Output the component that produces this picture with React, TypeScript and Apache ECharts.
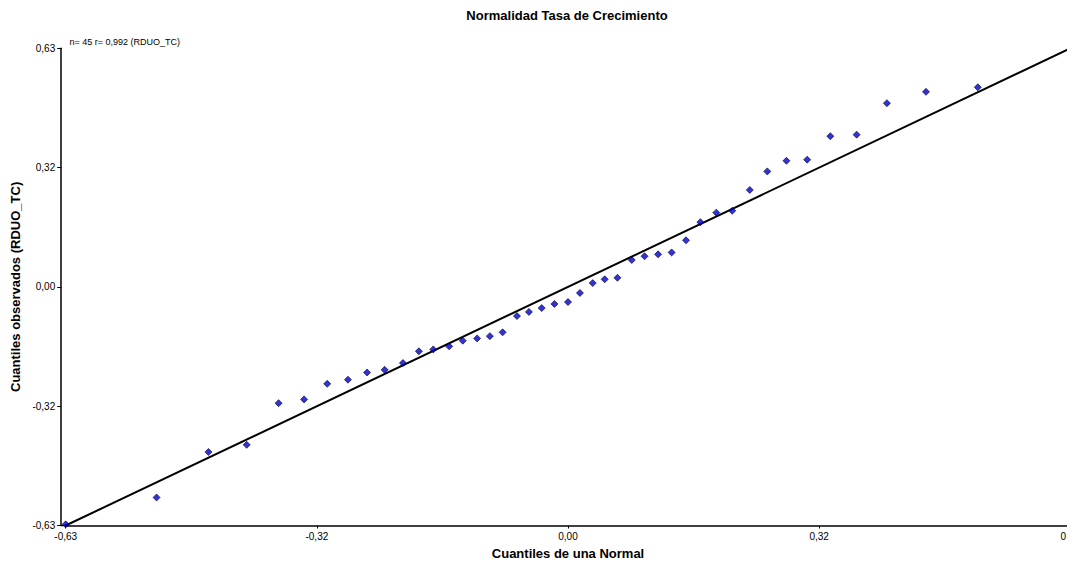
import React, { useEffect, useRef } from "react";
import * as echarts from "echarts";

const normalQuantiles = [
  -0.630, -0.516, -0.451, -0.403, -0.363, -0.331, -0.302, -0.276, -0.252, -0.230,
  -0.207, -0.187, -0.169, -0.149, -0.132, -0.114, -0.098, -0.082, -0.064, -0.049,
  -0.033, -0.017, 0.000, 0.015, 0.031, 0.046, 0.062, 0.080, 0.096, 0.113,
  0.130, 0.148, 0.166, 0.186, 0.206, 0.228, 0.250, 0.274, 0.300, 0.329,
  0.362, 0.400, 0.449, 0.514, 0.631,
];
const observedQuantiles = [
  -0.627, -0.556, -0.436, -0.417, -0.307, -0.297, -0.256, -0.245, -0.226, -0.219,
  -0.201, -0.170, -0.165, -0.157, -0.142, -0.136, -0.130, -0.120, -0.077, -0.066,
  -0.056, -0.045, -0.040, -0.016, 0.010, 0.020, 0.024, 0.071, 0.081, 0.086,
  0.091, 0.123, 0.171, 0.196, 0.201, 0.256, 0.305, 0.333, 0.336, 0.398,
  0.402, 0.485, 0.515, 0.527, 0.600,
];
const refLineX = [-0.63, 0.63];
const refLineY = [-0.63, 0.63];
const xTickLabels = ["-0,63", "-0,32", "0,00", "0,32", "0,63"];
const yTickLabels = ["-0,63", "-0,32", "0,00", "0,32", "0,63"];
const axisMin = -0.63;
const axisMax = 0.63;
const axisStep = 0.315;

const titleText = "Normalidad Tasa de Crecimiento";
const xName = "Cuantiles de una Normal";
const yName = "Cuantiles observados (RDUO_TC)";
const noteText = "n= 45 r= 0,992 (RDUO_TC)";

const FONT = "'Liberation Sans', Arial, sans-serif";

export default function App() {
  const ref = useRef<HTMLDivElement>(null);
  useEffect(() => {
    document.body.style.margin = "0";
    if (!ref.current) return;
    const chart = echarts.init(ref.current, null, { renderer: "svg" });
    const tickIndex = (v: number) => Math.round((v - axisMin) / axisStep);
    const points = normalQuantiles.map((x, i) => [x, observedQuantiles[i]]);
    const line = refLineX.map((x, i) => [x, refLineY[i]]);
    chart.setOption({
      animation: false,
      backgroundColor: "#ffffff",
      textStyle: { fontFamily: FONT },
      grid: {
        left: 65.7,
        right: -3.3,
        top: 48.3,
        bottom: 39.5,
        containLabel: false,
        outerBoundsMode: "none",
      },
      xAxis: {
        type: "value",
        min: axisMin,
        max: axisMax,
        interval: axisStep,
        name: xName,
        nameLocation: "middle",
        nameGap: 21,
        nameTextStyle: { fontFamily: FONT, fontSize: 13, fontWeight: "bold", color: "#000" },
        axisLine: { show: true, onZero: false, lineStyle: { color: "#000", width: 1.5 } },
        axisTick: { show: true, length: 3, lineStyle: { color: "#000" } },
        axisLabel: {
          fontFamily: FONT,
          fontSize: 10,
          color: "#000",
          margin: 6,
          showMinLabel: true,
          showMaxLabel: true,
          formatter: (v: number) => xTickLabels[tickIndex(v)] ?? "",
        },
        splitLine: { show: false },
      },
      yAxis: {
        type: "value",
        min: axisMin,
        max: axisMax,
        interval: axisStep,
        offset: 4.5,
        name: yName,
        nameLocation: "middle",
        nameGap: 37,
        nameTextStyle: { fontFamily: FONT, fontSize: 13, fontWeight: "bold", color: "#000" },
        axisLine: { show: true, onZero: false, lineStyle: { color: "#000", width: 1.5 } },
        axisTick: { show: true, length: 4, lineStyle: { color: "#000" } },
        axisLabel: {
          fontFamily: FONT,
          fontSize: 10,
          color: "#000",
          margin: 6,
          showMinLabel: true,
          showMaxLabel: true,
          formatter: (v: number) => yTickLabels[tickIndex(v)] ?? "",
        },
        splitLine: { show: false },
      },
      graphic: [
        {
          type: "text",
          x: 567,
          y: 15,
          style: {
            text: titleText,
            fontFamily: FONT,
            fontSize: 13,
            fontWeight: "bold",
            fill: "#000",
            align: "center",
            verticalAlign: "middle",
          },
        },
        {
          type: "text",
          x: 69.5,
          y: 41.5,
          style: {
            text: noteText,
            fontFamily: FONT,
            fontSize: 9,
            fill: "#000",
            align: "left",
            verticalAlign: "middle",
          },
        },
        {
          type: "line",
          shape: { x1: 61, y1: 525.5, x2: 66, y2: 525.5 },
          style: { stroke: "#000", lineWidth: 1.5 },
        },
      ],
      series: [
        {
          type: "line",
          data: line,
          symbol: "none",
          clip: false,
          lineStyle: { color: "#000", width: 2 },
          z: 2,
        },
        {
          type: "scatter",
          data: points,
          symbol: "diamond",
          symbolSize: 7,
          clip: false,
          itemStyle: { color: "#0000c8", borderColor: "#000030", borderWidth: 0.8 },
          z: 3,
        },
      ],
    });
    return () => chart.dispose();
  }, []);
  return (
    <div
      ref={ref}
      style={{ width: 1067, height: 565, overflow: "hidden", background: "#fff" }}
    />
  );
}
